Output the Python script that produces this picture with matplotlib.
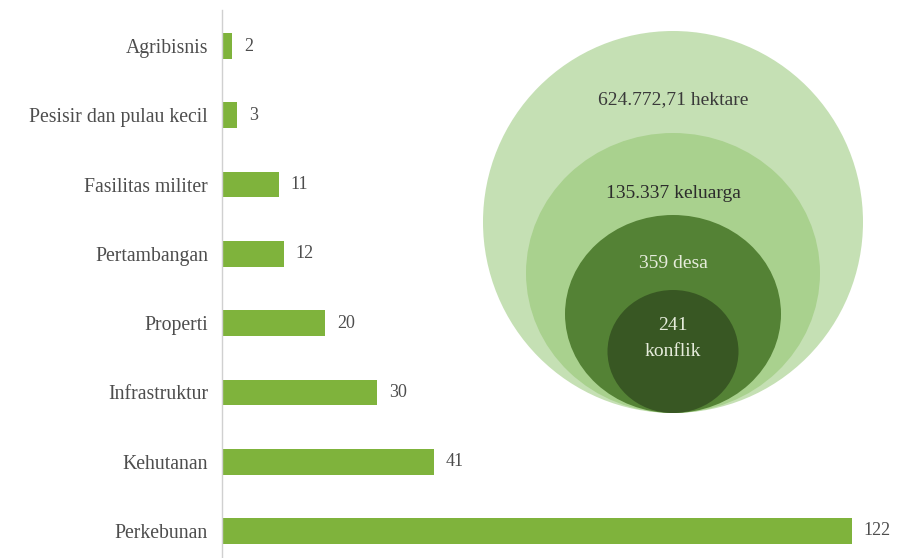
import matplotlib
matplotlib.use("Agg")
import matplotlib.pyplot as plt
from matplotlib.patches import Ellipse

# ---- data ----
categories = ["Perkebunan", "Kehutanan", "Infrastruktur", "Properti",
              "Pertambangan", "Fasilitas militer", "Pesisir dan pulau kecil", "Agribisnis"]
values = [122, 41, 30, 20, 12, 11, 3, 2]

circle_labels = ["624.772,71 hektare", "135.337 keluarga", "359 desa", "241", "konflik"]

# ---- style ----
W, H = 897, 558
DPI = 100
plt.rcParams['font.family'] = ['Liberation Serif', 'DejaVu Serif']
bar_color = '#7fb33c'
text_color = '#4d4d4d'
circle_colors = ['#c5e0b4', '#a9d18e', '#548235', '#385723']
circle_text_colors = ['#3a3a3a', '#2c2c2c', '#e6ecdc', '#e6ecdc', '#e6ecdc']

fig = plt.figure(figsize=(W / DPI, H / DPI), dpi=DPI)
fig.patch.set_facecolor('white')

# bar axes, positioned in pixel terms
left_px, right_px, top_px, bottom_px = 222, 897, 10, 558
ax = fig.add_axes([left_px / W, (H - bottom_px) / H, (right_px - left_px) / W, (bottom_px - top_px) / H])
px_per_unit = 5.164
ax.set_xlim(0, (right_px - left_px) / px_per_unit)
ax.set_ylim(-0.39, 7.52)
y = list(range(len(categories)))
ax.barh(y, values, height=0.37, color=bar_color, zorder=2)
ax.set_yticks(y)
ax.set_yticklabels(categories, fontsize=14.2, color=text_color)
ax.tick_params(axis='y', length=0, pad=10)
ax.set_xticks([])
for s in ['top', 'right', 'bottom']:
    ax.spines[s].set_visible(False)
ax.spines['left'].set_color('#d0d0d0')
ax.spines['left'].set_linewidth(1)
for yi, v in zip(y, values):
    ax.text(v + 2.3, yi, str(v), va='center', ha='left', fontsize=13, color=text_color)
ax.set_facecolor('none')

# circles overlay (pixel coordinates)
ov = fig.add_axes([0, 0, 1, 1])
ov.set_xlim(0, W)
ov.set_ylim(H, 0)
ov.axis('off')
ov.set_facecolor('none')
cx, base = 673, 413
widths = [380, 294, 216, 131]
heights = [382, 280, 198, 123]
for w, h, c in zip(widths, heights, circle_colors):
    ov.add_patch(Ellipse((cx, base - h / 2), w, h, color=c, lw=0))
label_y = [100, 193, 263, 325, 352]
for lab, ly, tc in zip(circle_labels, label_y, circle_text_colors):
    ov.text(cx, ly, lab, ha='center', va='center', fontsize=14, color=tc)

fig.savefig('out.png', dpi=DPI)
